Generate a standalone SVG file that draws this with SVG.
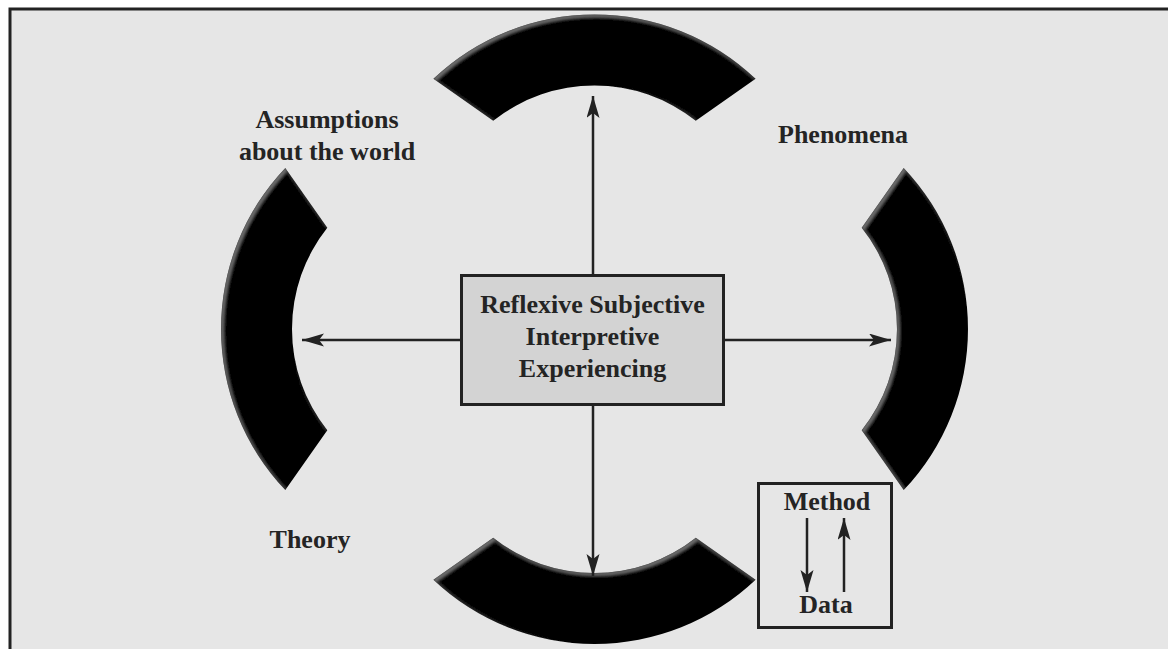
<svg xmlns="http://www.w3.org/2000/svg" width="1168" height="649" viewBox="0 0 1168 649">
  <style>
    .lbl { font-family: "Liberation Serif", "Times New Roman", serif; font-weight: bold; font-size: 26px; fill: #242424; text-anchor: middle; }
    .conn { stroke: #222; stroke-width: 2.5; fill: none; }
    .box { stroke: #222; stroke-width: 3; }
  </style>
  <defs>
    <!-- one band of the ring, centred on its own circle, opening downward -->
    <path id="band" d="M -161.1,-169.7 A 234 234 0 0 1 161.1,-169.7 L 101.3,-127.7 A 163 163 0 0 0 -101.3,-127.7 Z"/>
    <!-- soft grey rim on edges facing the upper left -->
    <filter id="bevel" x="-10%" y="-10%" width="120%" height="120%">
      <feGaussianBlur in="SourceAlpha" stdDeviation="1.2" result="b"/>
      <feOffset in="b" dx="2" dy="2" result="o"/>
      <feComposite in="SourceAlpha" in2="o" operator="out" result="rim"/>
      <feFlood flood-color="#7a7a7a"/>
      <feComposite in2="rim" operator="in" result="hl"/>
      <feGaussianBlur in="hl" stdDeviation="0.8" result="hl2"/>
      <feComposite in="hl2" in2="SourceAlpha" operator="in" result="hl3"/>
      <feMerge>
        <feMergeNode in="SourceGraphic"/>
        <feMergeNode in="hl3"/>
      </feMerge>
    </filter>
    <marker id="arrow" markerUnits="userSpaceOnUse" markerWidth="24" markerHeight="14" refX="22" refY="6.5" orient="auto">
      <path d="M0,0 L22,6.5 L0,13 L5,6.5 Z" fill="#222"/>
    </marker>
  </defs>

  <!-- page frame -->
  <rect x="0" y="0" width="1168" height="649" fill="#ffffff"/>
  <rect x="10" y="9" width="1158" height="640" fill="#e6e6e6"/>
  <path d="M10,649 V9 H1168" fill="none" stroke="#222" stroke-width="3"/>

  <!-- ring bands -->
  <g id="band-top" filter="url(#bevel)">
    <use href="#band" transform="translate(594.5,248.5)" fill="#000"/>
  </g>
  <g id="band-right" filter="url(#bevel)">
    <use href="#band" transform="translate(734,329) rotate(90)" fill="#000"/>
  </g>
  <g id="band-bottom" filter="url(#bevel)">
    <use href="#band" transform="translate(594.5,410) rotate(180)" fill="#000"/>
  </g>
  <g id="band-left" filter="url(#bevel)">
    <use href="#band" transform="translate(455,329) rotate(-90)" fill="#000"/>
  </g>

  <!-- connectors -->
  <g id="connectors">
    <line class="conn" x1="593" y1="275" x2="593" y2="96" marker-end="url(#arrow)"/>
    <line class="conn" x1="593" y1="405" x2="593" y2="576" marker-end="url(#arrow)"/>
    <line class="conn" x1="461" y1="340" x2="302" y2="340" marker-end="url(#arrow)"/>
    <line class="conn" x1="724" y1="340" x2="891" y2="340" marker-end="url(#arrow)"/>
    <line class="conn" x1="807" y1="518" x2="807" y2="592" marker-end="url(#arrow)"/>
    <line class="conn" x1="844" y1="592" x2="844" y2="518" marker-end="url(#arrow)"/>
  </g>

  <!-- centre node -->
  <g id="centre">
    <rect class="box" x="461.5" y="275.5" width="262" height="129" fill="#d3d3d3"/>
    <text class="lbl" x="592.5" y="313">Reflexive Subjective</text>
    <text class="lbl" x="592.5" y="345">Interpretive</text>
    <text class="lbl" x="592.5" y="377">Experiencing</text>
  </g>

  <!-- outer labels -->
  <g id="assumptions">
    <text class="lbl" x="327" y="128">Assumptions</text>
    <text class="lbl" x="327" y="160">about the world</text>
  </g>
  <g id="phenomena">
    <text class="lbl" x="843" y="143">Phenomena</text>
  </g>
  <g id="theory">
    <text class="lbl" x="310" y="548">Theory</text>
  </g>
  <g id="method-data">
    <rect class="box" x="758.5" y="483.5" width="133" height="144" fill="none"/>
    <text class="lbl" x="827" y="510">Method</text>
    <text class="lbl" x="826" y="613">Data</text>
  </g>
</svg>
